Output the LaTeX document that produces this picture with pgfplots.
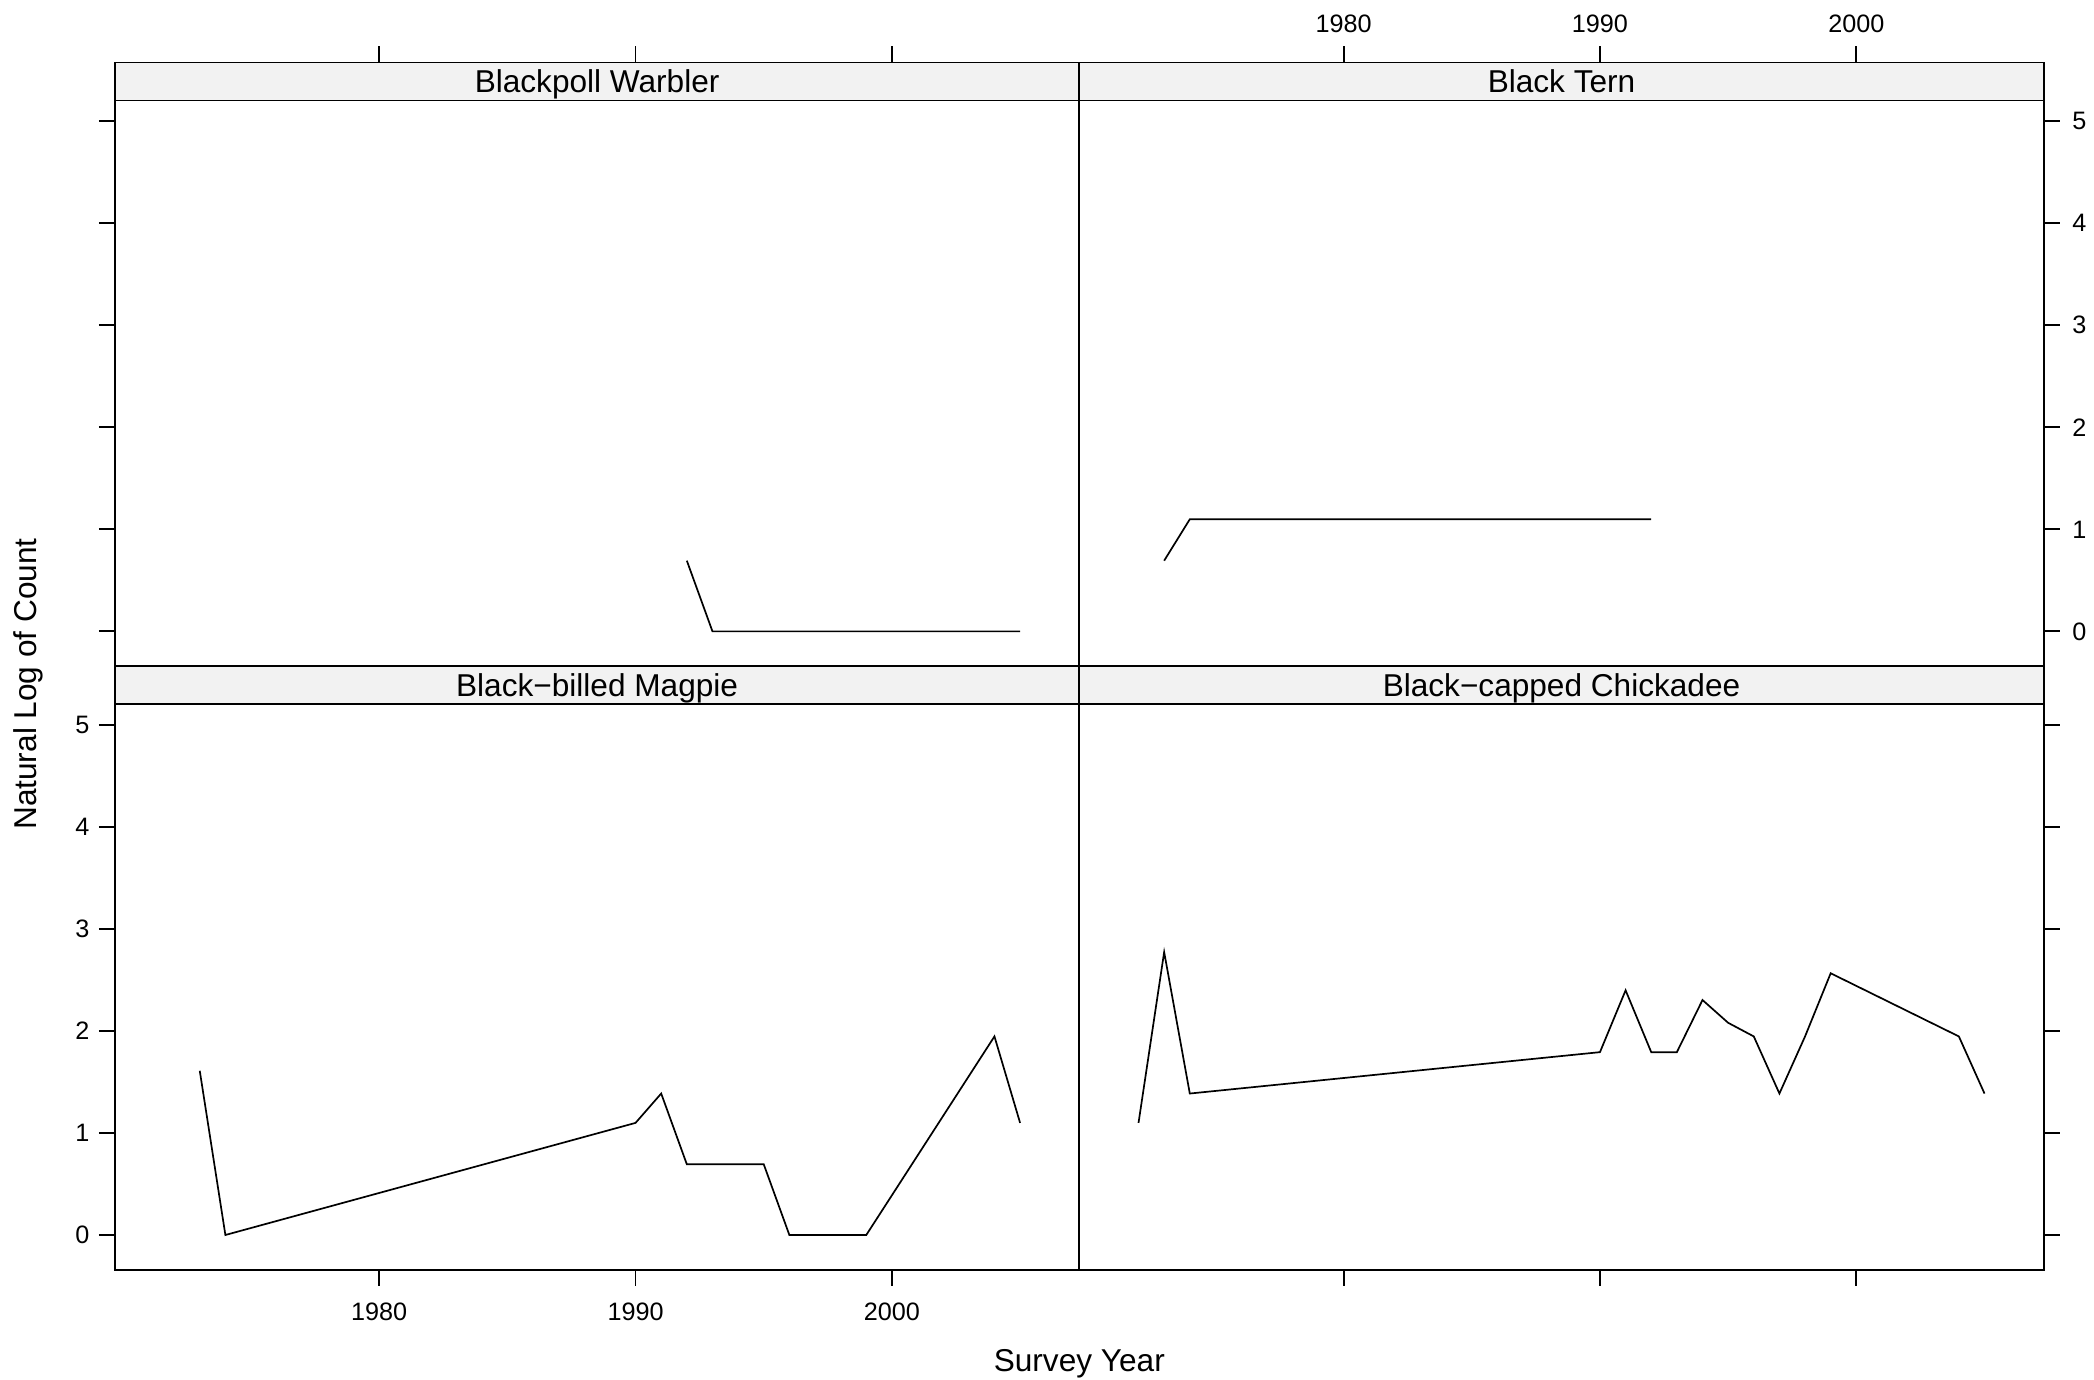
\documentclass[border=0pt]{standalone}
\usepackage{pgfplots}
\pgfplotsset{compat=1.18}
\usepackage{fontspec}
\setmainfont{Liberation Sans}
\definecolor{stripgray}{RGB}{242,242,242}
\newcommand{\stripfont}{\fontsize{15.8}{19}\selectfont}
\newcommand{\tickfont}{\fontsize{12.6}{15}\selectfont}
\pgfplotsset{
  panel/.style={
    scale only axis, width=482.2pt, height=301.8pt,
    xmin=1969.69, xmax=2007.31, ymin=-0.340, ymax=5.575,
    xtick={1980,1990,2000}, ytick={0,1,2,3,4,5},
    tick align=outside, major tick length=8pt, minor tick num=0,
    tick style={black, line width=0.9pt},
    axis line style={line width=0.9pt},
    tick label style={font=\tickfont},
    /pgf/number format/assume math mode=true,
    /pgf/number format/1000 sep={},
    anchor=south west, axis on top=true, clip=true,
  },
  series/.style={black, line width=0.85pt, mark=none},
}
\newcommand{\strip}[1]{%
  \draw[line width=0.9pt, fill=stripgray] (axis cs:1969.69,5.203) rectangle (axis cs:2007.31,5.575);
  \node[font=\stripfont, text=black, anchor=base] at (axis cs:1988.5,5.278) {#1};}
\begin{document}
\begin{tikzpicture}
\useasboundingbox (0,0) rectangle (1047pt,690pt);
% Top-left: Blackpoll Warbler
\begin{axis}[panel, at={(57.45pt,356.95pt)},
  xtick pos=top, xticklabels={},
  ytick pos=left, yticklabels={}]
\addplot[series] coordinates {(1992,0.6931) (1993,0) (2005,0)};
\strip{Blackpoll Warbler}
\end{axis}
% Top-right: Black Tern
\begin{axis}[panel, at={(539.65pt,356.95pt)},
  xtick pos=top, xticklabel pos=top,
  xticklabel style={anchor=center, yshift=11.2pt},
  ytick pos=right, yticklabel pos=right,
  yticklabel style={anchor=center, xshift=9.8pt}]
\addplot[series] coordinates {(1973,0.6931) (1974,1.0986) (1992,1.0986)};
\strip{Black Tern}
\end{axis}
% Bottom-left: Black-billed Magpie
\begin{axis}[panel, at={(57.45pt,55.15pt)},
  xtick pos=bottom, xticklabel pos=bottom,
  xticklabel style={anchor=center, yshift=-13.2pt},
  ytick pos=left, yticklabel pos=left,
  yticklabel style={anchor=center, xshift=-8.2pt}]
\addplot[series] coordinates {(1973,1.6094) (1974,0) (1990,1.0986) (1991,1.3863) (1992,0.6931) (1995,0.6931) (1996,0) (1999,0) (2004,1.9459) (2005,1.0986)};
\strip{Black−billed Magpie}
\end{axis}
% Bottom-right: Black-capped Chickadee
\begin{axis}[panel, at={(539.65pt,55.15pt)},
  xtick pos=bottom, xticklabels={},
  ytick pos=right, yticklabels={}]
\addplot[series] coordinates {(1972,1.0986) (1973,2.7726) (1974,1.3863) (1990,1.7918) (1991,2.3979) (1992,1.7918) (1993,1.7918) (1994,2.3026) (1995,2.0794) (1996,1.9459) (1997,1.3863) (1998,1.9459) (1999,2.5649) (2004,1.9459) (2005,1.3863)};
\strip{Black−capped Chickadee}
\end{axis}
\node[font=\stripfont, anchor=base] at (539.65pt,4.3pt) {Survey Year};
\node[font=\stripfont, rotate=90] at (14.35pt,348pt) {Natural Log of Count};
\end{tikzpicture}
\end{document}
